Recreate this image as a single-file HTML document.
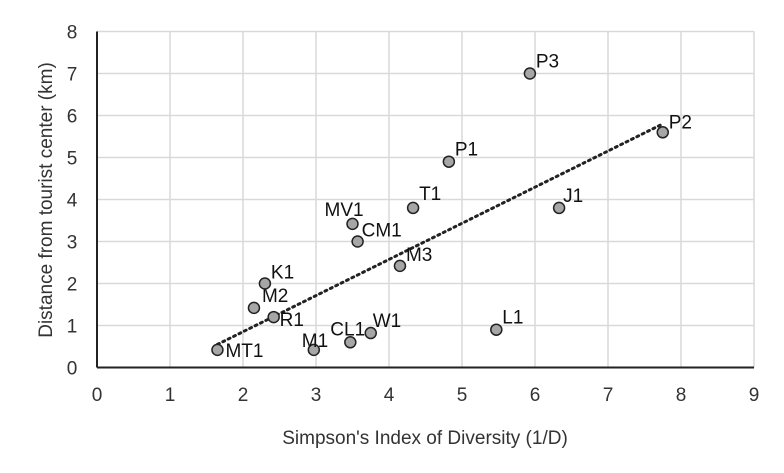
<!DOCTYPE html>
<html><head><meta charset="utf-8"><style>
body{margin:0;background:#fff;}
svg{display:block;font-family:"Liberation Sans",Arial,sans-serif;}
</style></head><body>
<svg id="chart" width="784" height="473"></svg>
<script>
const labels=["MT1","M2","R1","K1","M1","CL1","W1","MV1","CM1","T1","M3","P1","L1","P3","J1","P2"];
const xVals=[1.65,2.15,2.42,2.3,2.97,3.47,3.75,3.5,3.57,4.33,4.15,4.82,5.47,5.93,6.33,7.75];
const yVals=[0.42,1.42,1.2,2.0,0.42,0.6,0.82,3.42,3.0,3.8,2.42,4.9,0.9,7.0,3.8,5.6];
const xTicks=[0,1,2,3,4,5,6,7,8,9];
const yTicks=[0,1,2,3,4,5,6,7,8];
const trendX=[1.65,7.75];
const trendY=[0.55,5.8];
const labelDx=[8,8,6,6,-12,-20,2,-28,4,6,6,6,6,6,4,6];
const labelDy=[7,-6,9,-5,-3,-7,-6,-8,-5,-8,-5,-6,-6,-6,-6,-4];
const NS="http://www.w3.org/2000/svg";
const svg=document.getElementById('chart');
const X=v=>97+v*73, Y=v=>367.5-v*42;
function mk(t,a,p){const e=document.createElementNS(NS,t);for(const k in a)e.setAttribute(k,a[k]);(p||svg).appendChild(e);return e;}
xTicks.forEach(t=>{
 if(t>0){const g=mk('line',{x1:X(t),x2:X(t),y1:Y(0),y2:Y(8),stroke:'#d9d9d9','stroke-width':1.5});
 
 }
 const l=mk('text',{x:X(t),y:401,'text-anchor':'middle','font-size':19,fill:'#333'});l.textContent=t;
 
 
});
yTicks.forEach(t=>{
 if(t>0){const g=mk('line',{x1:X(0),x2:X(9),y1:Y(t),y2:Y(t),stroke:'#d9d9d9','stroke-width':1.5});
 
 }
 const l=mk('text',{x:72,y:Y(t)+7,'text-anchor':'middle','font-size':19,fill:'#333'});l.textContent=t;
 
 
});
const ax=mk('line',{x1:X(0),x2:X(9),y1:Y(0),y2:Y(0),stroke:'#222','stroke-width':2});


const ay=mk('line',{x1:X(0),x2:X(0),y1:Y(0),y2:Y(8),stroke:'#222','stroke-width':2});


const tr=mk('line',{x1:X(trendX[0]),y1:Y(trendY[0]),x2:X(trendX[1]),y2:Y(trendY[1]),stroke:'#222','stroke-width':3,'stroke-dasharray':'2 4','stroke-linecap':'round'});


xVals.forEach((v,i)=>{
 const c=mk('circle',{cx:X(v),cy:Y(yVals[i]),r:5.5,fill:'#a6a6a6',stroke:'#222','stroke-width':1.5});
 
 
 const t=mk('text',{x:X(v)+labelDx[i],y:Y(yVals[i])+labelDy[i],'font-size':19,fill:'#111'});t.textContent=labels[i];
 
 
});
const xt=mk('text',{x:425,y:444,'text-anchor':'middle','font-size':19,fill:'#333'});xt.textContent="Simpson's Index of Diversity (1/D)";


const yt=mk('text',{x:0,y:0,'text-anchor':'middle','font-size':19,fill:'#333',transform:'translate(52,200) rotate(-90)'});yt.textContent="Distance from tourist center (km)";


</script>
</body></html>
